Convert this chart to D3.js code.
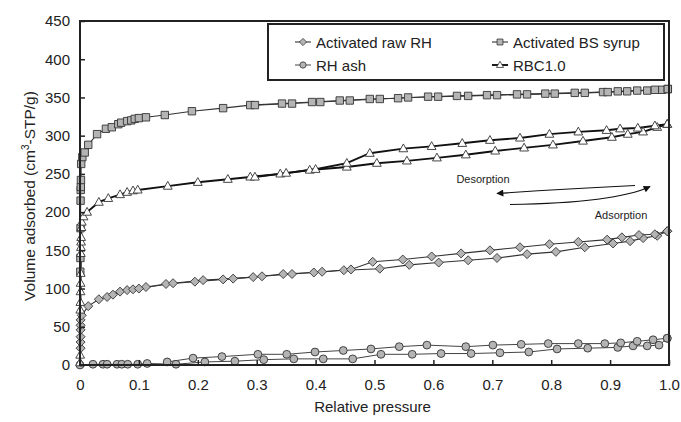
<!DOCTYPE html>
<meta charset="utf-8">
<script src="https://d3js.org/d3.v7.min.js"></script>
<style>
  body { margin: 0; background: #fff; }
  text { font-family: "Liberation Sans", Arial, sans-serif; fill: #222; }
</style>
<svg></svg>
<script>

// DATA (relative pressure / volume adsorbed)

var xTicks = [0, 0.1, 0.2, 0.3, 0.4, 0.5, 0.6, 0.7, 0.8, 0.9, 1.0];
var yTicks = [0, 50, 100, 150, 200, 250, 300, 350, 400, 450];

// Activated BS syrup (squares)
var bsAdsP = [0.0005, 0.0007, 0.0009, 0.001, 0.0012, 0.0014, 0.0016, 0.002, 0.004, 0.008, 0.014, 0.029, 0.044, 0.054, 0.065, 0.07, 0.08, 0.087, 0.093, 0.1, 0.112, 0.144, 0.19, 0.243, 0.289, 0.343, 0.394, 0.441, 0.492, 0.54, 0.591, 0.64, 0.691, 0.742, 0.79, 0.84, 0.888, 0.929, 0.963, 0.988, 0.998];
var bsAdsV = [122, 140, 179, 215, 229, 233, 242, 263, 272, 278, 288, 302, 309, 311, 315, 317, 319, 320, 322, 323, 324, 327, 332, 336, 340, 342, 344, 346, 348, 349, 351, 352, 353, 354, 355, 356, 357, 358, 359, 360, 361];
var bsDesP = [0.998, 0.976, 0.946, 0.913, 0.896, 0.857, 0.806, 0.759, 0.708, 0.659, 0.608, 0.557, 0.509, 0.458, 0.408, 0.36, 0.297];
var bsDesV = [361, 360, 359, 358, 357, 356, 355, 354, 353, 352, 351, 350, 348, 346, 344, 342, 340];

// RBC1.0 (triangles)
var rbcAdsP = [0, 0.0003, 0.0005, 0.0007, 0.0009, 0.001, 0.0012, 0.0014, 0.0016, 0.0018, 0.002, 0.0025, 0.003, 0.006, 0.012, 0.032, 0.048, 0.068, 0.08, 0.09, 0.098, 0.149, 0.2, 0.251, 0.289, 0.34, 0.39, 0.453, 0.504, 0.555, 0.606, 0.655, 0.705, 0.754, 0.803, 0.854, 0.903, 0.93, 0.956, 0.98, 0.997];
var rbcAdsV = [3, 13, 72, 82, 96, 107, 120, 146, 154, 161, 167, 180, 187, 194, 200, 213, 218, 223, 226, 228, 229, 234, 239, 243, 246, 250, 255, 259, 264, 267, 271, 275, 280, 284, 288, 293, 298, 302, 305, 311, 315];
var rbcDesP = [0.997, 0.976, 0.947, 0.917, 0.894, 0.846, 0.797, 0.747, 0.696, 0.649, 0.597, 0.549, 0.492, 0.453, 0.40, 0.35, 0.297];
var rbcDesV = [315, 313, 310, 309, 307, 305, 302, 297, 294, 290, 286, 283, 277, 264, 256, 251, 246];

// Activated raw RH (diamonds)
var rawAdsP = [0.001, 0.001, 0.001, 0.001, 0.001, 0.001, 0.003, 0.014, 0.032, 0.046, 0.056, 0.068, 0.08, 0.09, 0.112, 0.146, 0.195, 0.243, 0.294, 0.345, 0.397, 0.448, 0.509, 0.559, 0.609, 0.659, 0.708, 0.759, 0.808, 0.857, 0.905, 0.934, 0.956, 0.98, 0.997];
var rawAdsV = [22, 30, 37, 46, 52, 59, 65, 77, 86, 89, 92, 96, 98, 99, 102, 106, 109, 112, 115, 119, 121, 124, 126, 131, 134, 137, 140, 145, 148, 154, 159, 162, 166, 169, 175];
var rawDesP = [0.997, 0.976, 0.949, 0.92, 0.895, 0.846, 0.797, 0.747, 0.696, 0.647, 0.597, 0.548, 0.497, 0.46, 0.411, 0.36, 0.309, 0.26, 0.209, 0.158, 0.1];
var rawDesV = [175, 171, 170, 167, 164, 161, 158, 154, 150, 146, 142, 138, 135, 125, 122, 119, 116, 113, 111, 107, 100];

// RH ash (circles)
var ashAdsP = [0, 0.022, 0.039, 0.046, 0.063, 0.071, 0.081, 0.098, 0.114, 0.163, 0.212, 0.263, 0.312, 0.363, 0.413, 0.463, 0.511, 0.564, 0.613, 0.664, 0.713, 0.762, 0.81, 0.862, 0.913, 0.939, 0.963, 0.983, 0.997];
var ashAdsV = [0, 1, 1, 1, 1, 1, 1, 1, 2, 1, 4, 5, 7, 8, 8, 8, 14, 14, 15, 15, 16, 17, 21, 22, 23, 25, 25, 26, 35];
var ashDesP = [0.997, 0.973, 0.946, 0.918, 0.891, 0.846, 0.795, 0.749, 0.701, 0.655, 0.589, 0.542, 0.494, 0.447, 0.399, 0.351, 0.302, 0.241, 0.192, 0.148];
var ashDesV = [35, 33, 31, 29, 28, 28, 28, 27, 26, 24, 26, 24, 21, 19, 17, 14, 14, 11, 9, 4];

var legendLabels = ["Activated raw RH", "Activated BS syrup", "RH ash", "RBC1.0"];

// GLOBALS

var width = 681;
var height = 422;
var margin = {top: 21, right: 12, bottom: 57, left: 80};

var svg = d3.select("svg")
    .attr("width", width)
    .attr("height", height);

var x = d3.scaleLinear()
    .domain([0, 1])
    .range([margin.left, width - margin.right]);

var y = d3.scaleLinear()
    .domain([0, 450])
    .range([height - margin.bottom, margin.top]);

var markerFill = "#b4b4b4";
var ink = "#222";

// marker shapes
var shapes = {
  square: "M-3.7,-3.7H3.7V3.7H-3.7Z",
  diamond: "M0,-4.5L4.5,0L0,4.5L-4.5,0Z",
  circle: d3.symbol().type(d3.symbolCircle).size(48)(),
  triangle: "M0,-4.7L4.4,3.1L-4.4,3.1Z"
};

var series = [
  {shape: "circle", fill: markerFill, lw: 1, lc: "#444", sets: [[ashAdsP, ashAdsV], [ashDesP, ashDesV]]},
  {shape: "diamond", fill: markerFill, lw: 1.1, lc: "#333", sets: [[rawAdsP, rawAdsV], [rawDesP, rawDesV]]},
  {shape: "square", fill: markerFill, lw: 1.1, lc: "#333", sets: [[bsAdsP, bsAdsV], [bsDesP, bsDesV]]},
  {shape: "triangle", fill: "#fff", lw: 1.9, lc: "#111", sets: [[rbcAdsP, rbcAdsV], [rbcDesP, rbcDesV]]}
];

var line = d3.line()
    .x(function(d) { return x(d[0]); })
    .y(function(d) { return y(d[1]); });

// PLOT

var plot = svg.append("g");

series.forEach(function(s) {
  s.sets.forEach(function(set) {
    var pts = set[0].map(function(p, i) { return [p, set[1][i]]; });
    plot.append("path")
        .datum(pts)
        .attr("fill", "none")
        .attr("stroke", s.lc)
        .attr("stroke-width", s.lw)
        .attr("d", line);
  });
});

series.forEach(function(s) {
  s.sets.forEach(function(set) {
    var pts = set[0].map(function(p, i) { return [p, set[1][i]]; });
    plot.selectAll(null)
        .data(pts)
        .enter()
        .append("path")
          .attr("d", shapes[s.shape])
          .attr("transform", function(d) { return "translate(" + x(d[0]) + "," + y(d[1]) + ")"; })
          .attr("fill", s.fill)
          .attr("stroke", "#333")
          .attr("stroke-width", 0.9);
  });
});

// AXES (inward ticks)

var xAxis = svg.append("g")
    .attr("transform", "translate(0," + y(0) + ")")
    .call(d3.axisBottom(x).tickValues(xTicks).tickSizeInner(-5).tickSizeOuter(0)
      .tickFormat(function(d) { return d === 0 ? "0" : d3.format(".1f")(d); }));

var yAxis = svg.append("g")
    .attr("transform", "translate(" + x(0) + ",0)")
    .call(d3.axisLeft(y).tickValues(yTicks).tickSizeInner(-5).tickSizeOuter(0));

[xAxis, yAxis].forEach(function(a) {
  a.select(".domain").remove();
  a.selectAll(".tick line").attr("stroke", ink).attr("stroke-width", 1.5);
  a.selectAll(".tick text")
      .attr("font-size", 15)
      .attr("fill", "#222")
      .attr("font-family", "Liberation Sans, Arial, sans-serif");
});
xAxis.selectAll(".tick text").attr("dy", "1.45em");
yAxis.selectAll(".tick text").attr("x", -10);

// frame
svg.append("rect")
    .attr("x", x(0))
    .attr("y", y(450))
    .attr("width", x(1) - x(0))
    .attr("height", y(0) - y(450))
    .attr("fill", "none")
    .attr("stroke", ink)
    .attr("stroke-width", 2);

// AXIS TITLES

svg.append("text")
    .attr("x", (x(0) + x(1)) / 2 - 2)
    .attr("y", 412)
    .attr("text-anchor", "middle")
    .attr("font-size", 15)
    .text("Relative pressure");

var yTitle = svg.append("text")
    .attr("transform", "translate(35,196) rotate(-90)")
    .attr("text-anchor", "middle")
    .attr("font-size", 15.5);
yTitle.append("tspan").text("Volume adsorbed (cm");
yTitle.append("tspan").attr("font-size", 10).attr("dy", -6).text("3");
yTitle.append("tspan").attr("dy", 6).text("-STP/g)");

// LEGEND

var legend = svg.append("g");
legend.append("rect")
    .attr("x", 268)
    .attr("y", 24)
    .attr("width", 396)
    .attr("height", 56)
    .attr("fill", "#fff")
    .attr("stroke", ink)
    .attr("stroke-width", 2);

var legendShapes = [
  {s: series[1], cx: 303, cy: 42},
  {s: series[2], cx: 500, cy: 42},
  {s: series[0], cx: 303, cy: 65},
  {s: series[3], cx: 500, cy: 65}
];

legendShapes.forEach(function(l, i) {
  legend.append("line")
      .attr("x1", l.cx - 8).attr("x2", l.cx + 8)
      .attr("y1", l.cy).attr("y2", l.cy)
      .attr("stroke", l.s.lc)
      .attr("stroke-width", l.s.lw);
  legend.append("path")
      .attr("d", shapes[l.s.shape])
      .attr("transform", "translate(" + l.cx + "," + l.cy + ") scale(0.8)")
      .attr("fill", l.s.fill)
      .attr("stroke", "#333")
      .attr("stroke-width", 1);
  legend.append("text")
      .attr("x", l.cx + 13)
      .attr("y", l.cy + 5.5)
      .attr("font-size", 15)
      .text(legendLabels[i]);
});

// ARROWS

svg.append("defs").append("marker")
    .attr("id", "head")
    .attr("viewBox", "0 0 10 10")
    .attr("refX", 9)
    .attr("refY", 5)
    .attr("markerWidth", 10)
    .attr("markerHeight", 7)
    .attr("markerUnits", "userSpaceOnUse")
    .attr("orient", "auto")
  .append("path")
    .attr("d", "M0,0L10,5L0,10Z")
    .attr("fill", "#111");

svg.append("path")
    .attr("d", "M635,185.5 Q560,189 497,193.5")
    .attr("fill", "none")
    .attr("stroke", "#111")
    .attr("stroke-width", 1.1)
    .attr("marker-end", "url(#head)");

svg.append("path")
    .attr("d", "M510,204.5 Q615,203 650,186.5")
    .attr("fill", "none")
    .attr("stroke", "#111")
    .attr("stroke-width", 1.1)
    .attr("marker-end", "url(#head)");

svg.append("text")
    .attr("x", 483)
    .attr("y", 183)
    .attr("text-anchor", "middle")
    .attr("font-size", 11)
    .text("Desorption");

svg.append("text")
    .attr("x", 621)
    .attr("y", 219)
    .attr("text-anchor", "middle")
    .attr("font-size", 11)
    .text("Adsorption");

</script>
